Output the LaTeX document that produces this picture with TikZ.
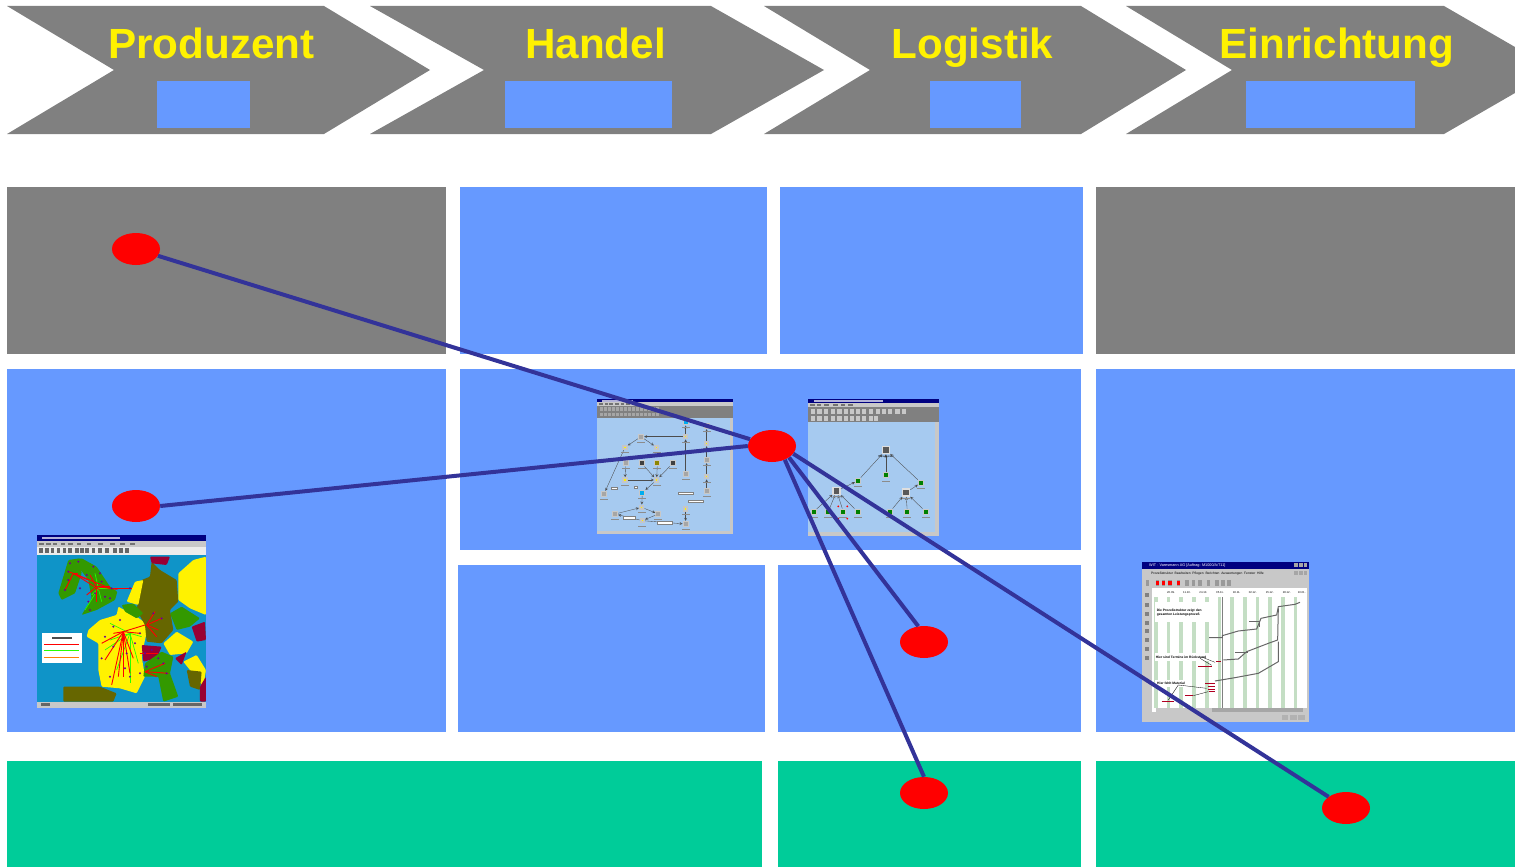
\documentclass[tikz,border=0pt]{standalone}
\usepackage{fontspec}
\setmainfont{Liberation Sans}
\usetikzlibrary{shapes.geometric}
\definecolor{chevgray}{HTML}{808080}
\definecolor{tileblue}{HTML}{6699FF}
\definecolor{tilegreen}{HTML}{00CC99}
\definecolor{linkblue}{HTML}{333399}
\definecolor{winblue}{HTML}{A6CAF0}
\definecolor{winnavy}{HTML}{000080}
\definecolor{winsilver}{HTML}{C8C8C8}
\definecolor{mapsea}{HTML}{0F94C8}
\definecolor{mapgreen}{HTML}{339900}
\definecolor{mapolive}{HTML}{666600}
\definecolor{mapred}{HTML}{990033}
\definecolor{stripe}{HTML}{C4DEC4}
\definecolor{barred}{HTML}{B00020}
\tikzset{
  tile/.style={rectangle, inner sep=0, outer sep=0, fill=tileblue},
  graytile/.style={tile, fill=chevgray},
  greentile/.style={tile, fill=tilegreen},
  phase/.style={inner sep=0, anchor=base, text=yellow, font=\fontsize{42.2}{42.2}\selectfont\bfseries},
  spot/.style={ellipse, fill=red, inner sep=0, minimum width=48pt, minimum height=32pt},
  link/.style={draw=linkblue, line width=4pt},
  doc/.style={rectangle, inner sep=0, minimum size=5pt, fill=gray!70!white, draw=winsilver, line width=1.2pt},
  hex/.style={doc, fill=yellow, minimum size=3.5pt, draw=gray!45, line width=2pt},
  cy/.style={doc, fill=cyan},
  dk/.style={doc, fill=black!75},
  ol/.style={doc, fill=olive},
  pic/.style={rectangle, inner sep=0, minimum size=7pt, fill=black!65, draw=winsilver!60!white, line width=1.5pt},
  pers/.style={doc, fill=black!50!green},
  wire/.style={draw=black!70, line width=.35pt},
  wirea/.style={wire, ->, >=stealth},
  tiny/.style={inner sep=0, font=\fontsize{3.3}{3.9}\selectfont},
  tinyb/.style={inner sep=0, font=\fontsize{3.3}{3.9}\selectfont\bfseries},
  lab/.style={rectangle, fill=white, draw=gray, line width=.2pt, inner sep=0, minimum height=2.5pt},
  route/.style={draw=red, line width=.9pt},
  routeg/.style={draw=green!85!yellow, line width=.7pt},
  chart/.style={draw=black!60, line width=1pt},
  barline/.style={draw=barred, line width=.9pt},
  leader/.style={draw=black, line width=.3pt},
  map/.style={rounded corners=1pt}
}
\begin{document}
\begin{tikzpicture}[x=1pt,y=-1pt]
\useasboundingbox (0,0) rectangle (1515,867);

\fill[chevgray] (7,6) -- (324,6) -- (430,70) -- (324,134) -- (7,134) -- (114,70) -- cycle;
\fill[chevgray] (370,6) -- (711,6) -- (824,70) -- (711,134) -- (370,134) -- (484,70) -- cycle;
\fill[chevgray] (764,6) -- (1081,6) -- (1186,70) -- (1081,134) -- (764,134) -- (870,70) -- cycle;
\fill[chevgray] (1126,6) -- (1444,6) -- (1515,47) -- (1515,93) -- (1444,134) -- (1126,134) -- (1232,70) -- cycle;
\node[phase] (ph0) at (211.5,59){Produzent};
\node[phase] (ph1) at (595.5,59){Handel};
\node[phase] (ph2) at (972.5,59){Logistik};
\node[phase] (ph3) at (1337,59){Einrichtung};
\node[tile, minimum width=93pt, minimum height=47pt] (bx0) at (203.5,104.5){};
\node[tile, minimum width=167pt, minimum height=47pt] (bx1) at (588.5,104.5){};
\node[tile, minimum width=91pt, minimum height=47pt] (bx2) at (975.5,104.5){};
\node[tile, minimum width=169pt, minimum height=47pt] (bx3) at (1330.5,104.5){};

\node[graytile, minimum width=439pt, minimum height=167pt] (t0) at (226.5,270.5){};
\node[tile, minimum width=307pt, minimum height=167pt] (t1) at (613.5,270.5){};
\node[tile, minimum width=303pt, minimum height=167pt] (t2) at (931.5,270.5){};
\node[graytile, minimum width=419pt, minimum height=167pt] (t3) at (1305.5,270.5){};
\node[tile, minimum width=439pt, minimum height=363pt] (t4) at (226.5,550.5){};
\node[tile, minimum width=621pt, minimum height=181pt] (t5) at (770.5,459.5){};
\node[tile, minimum width=419pt, minimum height=363pt] (t6) at (1305.5,550.5){};
\node[tile, minimum width=307pt, minimum height=167pt] (t7) at (611.5,648.5){};
\node[tile, minimum width=303pt, minimum height=167pt] (t8) at (929.5,648.5){};
\node[greentile, minimum width=755pt, minimum height=106pt] (t9) at (384.5,814){};
\node[greentile, minimum width=303pt, minimum height=106pt] (t10) at (929.5,814){};
\node[greentile, minimum width=419pt, minimum height=106pt] (t11) at (1305.5,814){};

\begin{scope}[shift={(30,530)},x=.3333pt,y=-.3333pt]
\fill[winsilver] (22,14) rectangle (528,533);
\fill[winnavy] (22,14) rectangle (528,32);
\fill[white!70!winnavy] (35,20) rectangle (270,26);
\fill[white!85!gray] (22,50) rectangle (528,75);
\foreach \xa in {28,45,62,80,98,115,135,150,165,185,205,225,250,268,285} {
  \fill[black!60] (\xa,55) rectangle (\xa+11,70);
}
\foreach \xa in {28,48,68,92,115,140,170,205,240,270,300} {
  \fill[black!55] (\xa,38) rectangle (\xa+14,44);
}
\fill[mapsea] (22,75) rectangle (528,515);
\fill[mapgreen,map] (85,190) -- (115,90) -- (150,85) -- (155,130) -- (135,190) -- (95,210) -- cycle;
\fill[mapgreen,map] (130,90) -- (155,85) -- (200,110) -- (240,170) -- (262,185) -- (255,210) -- (200,240) -- (155,255) -- (185,205) -- (175,150) -- cycle;
\fill[yellow,map] (265,230) -- (320,260) -- (355,285) -- (345,330) -- (335,380) -- (345,440) -- (320,490) -- (270,475) -- (215,470) -- (205,420) -- (205,340) -- (170,320) -- (175,300) -- (210,270) -- (260,255) -- cycle;
\fill[mapolive,map] (365,95) -- (390,120) -- (440,150) -- (445,215) -- (420,240) -- (430,300) -- (395,340) -- (350,335) -- (345,285) -- (320,240) -- (335,150) -- (360,140) -- cycle;
\fill[mapgreen,map] (275,225) -- (310,220) -- (340,250) -- (320,265) -- (285,245) -- cycle;
\fill[yellow,map] (290,215) -- (315,155) -- (340,150) -- (325,225) -- cycle;
\fill[yellow,map] (445,130) -- (490,90) -- (528,80) -- (528,255) -- (480,235) -- (445,210) -- cycle;
\fill[mapgreen,map] (420,250) -- (455,230) -- (510,265) -- (480,290) -- (440,300) -- cycle;
\fill[yellow,map] (400,340) -- (440,305) -- (490,335) -- (470,370) -- (420,375) -- cycle;
\fill[mapred,map] (485,290) -- (525,275) -- (528,330) -- (500,335) -- cycle;
\fill[mapred,map] (335,345) -- (395,350) -- (380,385) -- (340,395) -- cycle;
\fill[mapgreen,map] (345,400) -- (395,365) -- (430,380) -- (420,430) -- (445,500) -- (400,515) -- (385,440) -- (340,440) -- cycle;
\fill[yellow,map] (460,395) -- (500,375) -- (528,420) -- (520,470) -- (480,420) -- cycle;
\fill[mapolive,map] (470,420) -- (515,425) -- (510,480) -- (480,470) -- cycle;
\fill[mapred,map] (435,385) -- (470,365) -- (455,405) -- cycle;
\fill[mapred,map] (510,470) -- (528,440) -- (528,515) -- (510,515) -- cycle;
\fill[mapolive,map] (100,470) -- (210,470) -- (260,490) -- (250,515) -- (100,515) -- cycle;
\fill[mapred,map] (360,80) -- (420,80) -- (410,105) -- (365,100) -- cycle;
\foreach \xa/\ya in {195/130,215/215,165/240,245/175,185/195} {
  \draw[routeg] (205,175) -- (\xa,\ya);
}
\foreach \xa/\ya in {115/125,105/180,145/130,175/150,210/180,240/175} {
  \draw[route] (130,130) -- (\xa,\ya);
}
\foreach \xa/\ya in {240/170,262/178,200/215,180/135,170/195} {
  \draw[route] (200,170) -- (\xa,\ya);
}
\foreach \xa/\ya in {240/330,260/420,300/460,335/320,225/360,240/280,325/400} {
  \draw[routeg] (300,310) -- (\xa,\ya);
}
\foreach \xa/\ya in {215/340,225/390,245/465,265/440,300/430,310/385,330/310,345/285,250/310,280/440} {
  \draw[route] (280,305) -- (\xa,\ya);
}
\foreach \xa/\ya in {395/265,375/245,385/300,380/320} {
  \draw[route] (350,285) -- (\xa,\ya);
}
\foreach \xa/\ya in {405/400,380/440,415/430} {
  \draw[route] (345,425) -- (\xa,\ya);
}
\draw[route] (240,175) -- (305,175);
\draw[route] (330,370) -- (385,370);
\foreach \xa/\ya in {115/125,105/180,120/100,145/95,190/110,210/130,225/200,175/215,150/175,115/150,215/155,245/175,170/135,195/190,240/205,180/240,225/320,250/350,240/440,290/370,315/340,270/270,330/430,215/385,300/440,330/310,250/290,285/415,345/370,365/360,385/385,350/410,400/400,410/430,370/250,395/265,300/175} {
  \fill[violet!85!blue] (\xa,\ya) circle (1.1pt);
}
\node[rectangle, fill=white, inner sep=0, minimum width=40pt, minimum height=30pt] (maplegend) at (95,355){};
\fill[black!70] (65,322) rectangle (125,327);
\draw[route] (42,343) -- (148,343);
\draw[routeg] (42,360) -- (148,360);
\draw[draw=orange, line width=.7pt] (42,381) -- (148,381);
\fill[black!60] (32,520) rectangle (60,528);
\fill[black!60] (355,520) rectangle (420,528);
\fill[black!60] (430,520) rectangle (515,528);
\end{scope}

\begin{scope}[shift={(590,390)},x=.3333pt,y=-.3333pt]
\fill[winsilver] (22,28) rectangle (430,432);
\fill[winnavy] (22,28) rectangle (430,37);
\fill[white!70!winnavy] (35,30) rectangle (130,35);
\foreach \xa in {28,44,58,76,92,108} {
  \fill[black!55] (\xa,40) rectangle (\xa+11,44);
}
\fill[chevgray] (22,47) rectangle (430,83);
\foreach \xa in {30,42,54,66,78,90,102,114,126,138,150,162,174,186,198} {
  \fill[black!35] (\xa,51) rectangle (\xa+9,62);
  \fill[black!35] (\xa,68) rectangle (\xa+9,79);
}
\fill[winblue] (22,83) rectangle (420,422);
\node[cy] (a0) at (287,97){};
\node[doc] (a1) at (350,108){};
\node[hex] (a2) at (287,140){};
\node[hex] (a3) at (350,160){};
\node[doc] (a4) at (153,140){};
\node[hex] (a5) at (105,172){};
\node[hex] (a6) at (200,172){};
\node[doc] (a7) at (350,210){};
\node[doc] (a8) at (107,220){};
\node[dk] (a9) at (155,220){};
\node[ol] (a10) at (202,220){};
\node[dk] (a11) at (248,220){};
\node[doc] (a12) at (287,252){};
\node[hex] (a13) at (350,260){};
\node[hex] (a14) at (105,270){};
\node[hex] (a15) at (200,270){};
\node[doc] (a16) at (350,303){};
\node[doc] (a17) at (42,312){};
\node[cy] (a18) at (157,308){};
\node[hex] (a19) at (287,357){};
\node[hex] (a20) at (155,352){};
\node[doc] (a21) at (75,372){};
\node[doc] (a22) at (205,372){};
\node[hex] (a23) at (157,392){};
\node[doc] (a24) at (287,402){};
\draw[wirea] (a2) -- (a4);
\draw[wirea] (a4) -- (a5);
\draw[wirea] (a4) -- (a6);
\draw[wirea] (a3) -- (a1);
\draw[wirea] (a7) -- (a3);
\draw[wirea] (a13) -- (a7);
\draw[wirea] (a16) -- (a13);
\draw[wirea] (a12) -- (a2);
\draw[wirea] (a2) -- (a0);
\draw[wirea] (a5) -- (a17);
\draw[wirea] (a8) -- (a14);
\draw[wirea] (a9) -- (a15);
\draw[wirea] (a10) -- (a15);
\draw[wirea] (a11) -- (a15);
\draw[wirea] (a15) -- (a18);
\draw[wirea] (a14) -- (a15);
\draw[wirea] (a18) -- (a20);
\draw[wirea] (a21) -- (a20);
\draw[wirea] (a20) -- (a22);
\draw[wirea] (a22) -- (a23);
\draw[wirea] (a23) -- (a21);
\draw[wirea] (a19) -- (a24);
\draw[wirea] (a23) -- (a24);
\foreach \nd in {a0,a1,a2,a3,a4,a5,a6,a7,a8,a9,a10,a11,a12,a13,a14,a15,a16,a17,a18,a19,a20,a21,a22,a23,a24} {
  \fill[black!45] ([xshift=-4pt,yshift=-5pt]\nd.center) rectangle ([xshift=4pt,yshift=-6pt]\nd.center);
}
\node[lab, minimum width=6pt] (al0) at (73,294){};
\node[lab, minimum width=3pt] (al1) at (136,292){};
\node[lab, minimum width=15pt] (al2) at (288,310){};
\node[lab, minimum width=15pt] (al3) at (317,333){};
\node[lab, minimum width=12pt] (al4) at (116,383){};
\node[lab, minimum width=15pt] (al5) at (225,398){};
\end{scope}

\begin{scope}[shift={(590,390)},x=.3333pt,y=-.3333pt]
\fill[winsilver] (655,28) rectangle (1047,437);
\fill[winnavy] (655,28) rectangle (1047,38);
\fill[white!70!winnavy] (672,31) rectangle (880,36);
\foreach \xa in {660,680,702,730,752,775} {
  \fill[black!55] (\xa,42) rectangle (\xa+14,47);
}
\fill[chevgray] (655,50) rectangle (1047,97);
\foreach \xa in {662,682,702,722,742,762,780,798,816,836,858,876,894,916,936} {
  \fill[winsilver] (\xa,56) rectangle (\xa+13,71);
}
\foreach \xa in {662,682,702,722,742,762,780,798,816,836,852} {
  \fill[winsilver] (\xa,78) rectangle (\xa+13,92);
}
\fill[winblue] (655,97) rectangle (1035,427);
\node[pic] (m0) at (888,180){};
\node[pers] (m1) at (888,256){};
\node[pers] (m2) at (804,272){};
\node[pers] (m3) at (993,278){};
\node[pic] (m4) at (740,303){};
\node[pic] (m5) at (948,308){};
\node[pers] (m6) at (671,365){};
\node[pers] (m7) at (715,365){};
\node[pers] (m8) at (760,365){};
\node[pers] (m9) at (803,365){};
\node[pers] (m10) at (900,365){};
\node[pers] (m11) at (952,365){};
\node[pers] (m12) at (1007,365){};
\draw[wirea] (m2) -- (m0);
\draw[wirea] (m1) -- (m0);
\draw[wirea] (m3) -- (m0);
\draw[wirea] (m4) -- (m2);
\draw[wirea] (m5) -- (m3);
\draw[wirea] (m6) -- (m4);
\draw[wirea] (m7) -- (m4);
\draw[wirea] (m8) -- (m4);
\draw[wirea] (m9) -- (m4);
\draw[wirea] (m10) -- (m5);
\draw[wirea] (m11) -- (m5);
\draw[wirea] (m12) -- (m5);
\foreach \nd in {m1,m2,m3,m4,m5,m6,m7,m8,m9,m10,m11,m12} {
  \fill[black!45] ([xshift=-4pt,yshift=-5.5pt]\nd.center) rectangle ([xshift=4pt,yshift=-6.5pt]\nd.center);
}
\node[tiny, font=\fontsize{2.6}{3}\selectfont] (mt0) at (888,200){Management};
\fill[red] (745,349) circle (1pt);
\fill[red] (772,349) circle (1pt);
\fill[red] (745,386) circle (1pt);
\fill[red] (772,386) circle (1pt);
\end{scope}

\begin{scope}[shift={(1135,555)},x=.3333pt,y=-.3333pt]
\fill[winsilver] (22,20) rectangle (522,500);
\fill[winnavy] (22,20) rectangle (522,42);
\fill[white] (50,98) rectangle (515,458);
\foreach \xa in {58,95,133,172,210,248,286,324,362,400,438,476} {
  \fill[stripe] (\xa,125) rectangle (\xa+11,458);
}
\fill[gray] (260,125) rectangle (265,458);
\fill[white] (60,142) rectangle (245,202);
\fill[white] (60,295) rectangle (228,318);
\fill[white] (60,375) rectangle (170,395);
\node[tiny, text=white, anchor=west, font=\fontsize{3.8}{4}\selectfont] (c0) at (42,31){WIT · Varesmann AG [Auftrag: M1000/A/711]};
\node[tiny, anchor=west] (c1) at (48,55){Prozeßstruktur\ \ Bearbeiten\ \ Pflegen\ \ Berichten\ \ Auswertungen\ \ Fenster\ \ Hilfe};
\node[tinyb, anchor=west, align=left] (c2) at (65,173){Die Prozeßstruktur zeigt den\\gesamten Leistungsprozeß};
\node[tinyb, anchor=west] (c3) at (62,306){Hier sind Termine im Rückstand};
\node[tinyb, anchor=west] (c4) at (66,384){Hier fehlt Material};
\foreach \xa/\da in {108/20.09.,156/11.10.,205/24.10.,255/05.11.,305/18.11.,353/02.12.,404/15.12.,455/28.12.,500/10.01.} {
  \node[tiny, font=\fontsize{2.8}{3}\selectfont] at (\xa,114){\da};
}
\foreach \xa in {32,62,80,100,125,150,170,190,215,240,258,276} {
  \fill[black!40] (\xa,75) rectangle (\xa+11,92);
}
\fill[red] (62,78) rectangle (73,89);
\fill[red] (80,78) rectangle (91,89);
\fill[red] (100,78) rectangle (111,89);
\fill[red] (125,78) rectangle (136,89);
\foreach \ya in {115,145,170,197,223,250,277,303} {
  \fill[black!50] (31,\ya) rectangle (41,\ya+12);
}
\fill[black!35] (232,458) rectangle (505,472);
\fill[white] (50,458) rectangle (62,472);
\foreach \xa in {478,492,506} {
  \fill[black!35] (\xa,25) rectangle (\xa+11,37);
  \fill[black!35] (\xa,48) rectangle (\xa+11,60);
}
\fill[black!30] (440,480) rectangle (460,494);
\fill[black!30] (465,480) rectangle (485,494);
\fill[black!30] (490,480) rectangle (510,494);
\draw[chart] (222,248) -- (262,248) -- (262,242) -- (310,228) -- (365,222) -- (378,190) -- (425,180) -- (430,155) -- (480,148) -- (495,142);
\draw[chart] (342,200) -- (372,200) -- (372,215);
\draw[chart] (265,315) -- (310,312) -- (335,290) -- (400,265) -- (428,255) -- (430,160);
\draw[chart] (300,294) -- (338,294);
\draw[chart] (240,378) -- (300,368) -- (370,355) -- (430,320) -- (430,260);
\draw[barline] (190,333) -- (230,333);
\draw[barline] (243,320) -- (258,320);
\draw[barline] (210,385) -- (240,385);
\draw[barline] (218,395) -- (240,395);
\draw[barline] (220,403) -- (240,403);
\draw[barline] (222,410) -- (240,410);
\draw[barline] (150,422) -- (175,422);
\draw[barline] (80,438) -- (118,438);
\draw[leader] (200,306) -- (240,322);
\draw[leader] (195,310) -- (230,331);
\draw[leader] (130,390) -- (215,400);
\draw[leader] (130,390) -- (100,435);
\draw[leader] (175,422) -- (220,410);
\end{scope}

\node[spot] (dot0) at (136,249){};
\node[spot] (dot1) at (136,506){};
\node[spot] (hub) at (772,446){};
\node[spot] (dot2) at (924,642){};
\node[spot] (dot3) at (924,793){};
\node[spot] (dot4) at (1346,808){};
\draw[link] (dot0) -- (hub);
\draw[link] (dot1.east) -- (hub.west);
\draw[link] (hub.-34) -- (dot2.110);
\draw[link] (hub.-47) -- (dot3.north);
\draw[link] (hub.-20) -- (dot4);

\end{tikzpicture}
\end{document}
